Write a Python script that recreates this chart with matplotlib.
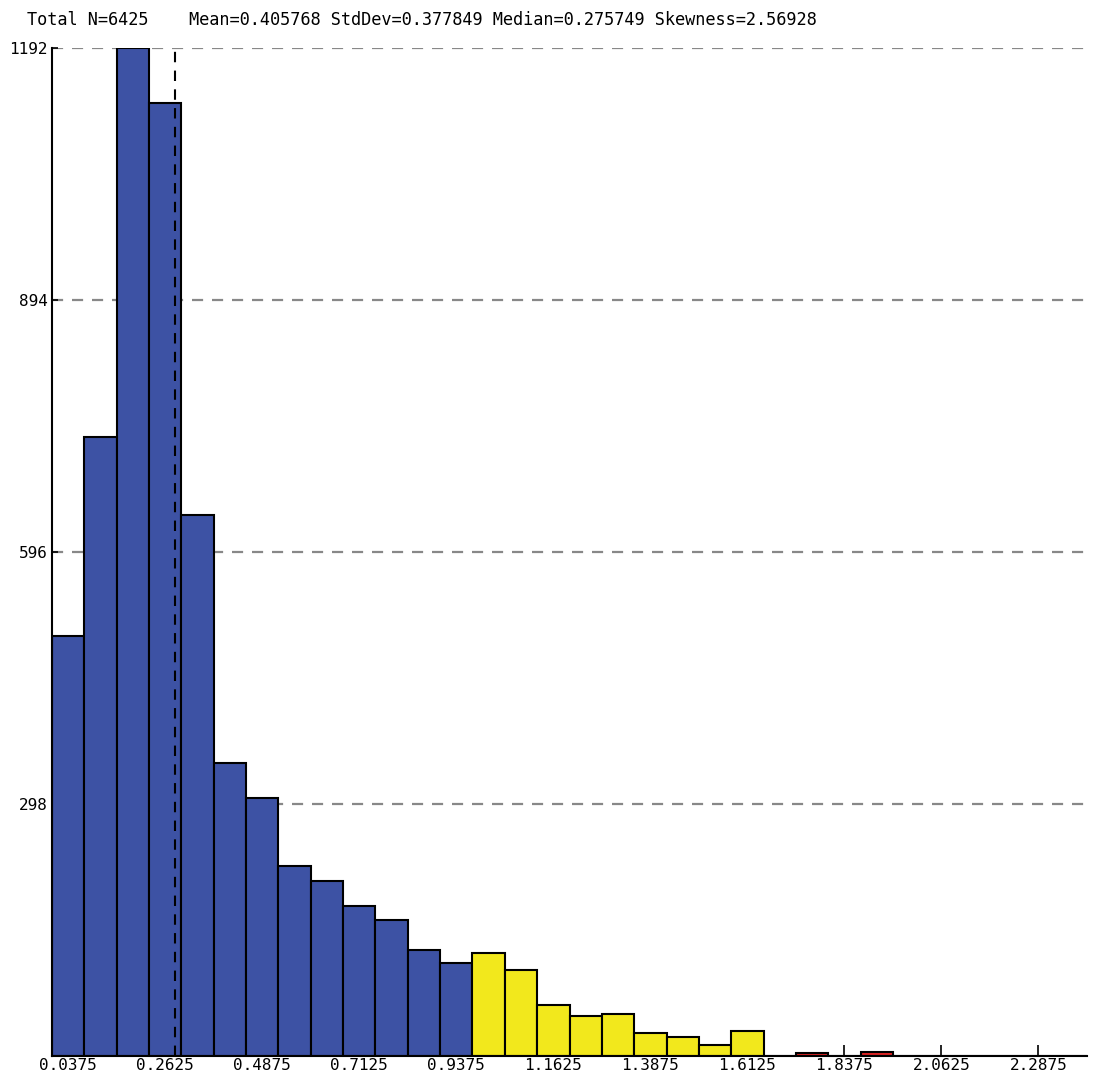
import numpy as np
import matplotlib
matplotlib.use("Agg")
import matplotlib.pyplot as plt

# histogram counts, bins of width 0.075 starting at 0
counts = [497, 732, 1192, 1127, 640, 346, 305, 225, 207, 177, 161, 125, 110,
          122, 102, 60, 47, 50, 27, 22, 13, 30,
          0, 3, 0, 5, 0, 0, 0, 0, 0, 0]
# colour class of each bin
groups = ['low'] * 13 + ['mid'] * 9 + ['high'] * 10
bin_start = 0.0
bin_width = 0.075

tick_labels = ['0.0375', '0.2625', '0.4875', '0.7125', '0.9375', '1.1625',
               '1.3875', '1.6125', '1.8375', '2.0625', '2.2875']
ytick_vals = [298, 596, 894, 1192]

median_line = 0.286
title = ("Total N=6425    Mean=0.405768 StdDev=0.377849 "
         "Median=0.275749 Skewness=2.56928")

group_colors = {'low': '#3d52a4', 'mid': '#f2e81c', 'high': '#e02424'}

plt.rcParams['font.family'] = 'DejaVu Sans Mono'

fig = plt.figure(figsize=(10.93, 10.76), dpi=100)
ax = fig.add_axes([52 / 1093, 20 / 1076, 1035 / 1093, 1008 / 1076])

lefts = bin_start + bin_width * np.arange(len(counts))
ax.bar(lefts, counts, width=bin_width, align='edge',
       color=[group_colors[g] for g in groups],
       edgecolor='black', linewidth=1.5, zorder=2)

# dashed grid
for v in ytick_vals:
    ax.axhline(v, color='#888888', linestyle=(0, (5, 4)), linewidth=1.6, zorder=1)

# median marker
ax.plot([median_line, median_line], [0, 1192], color='black',
        linestyle=(0, (5, 4)), linewidth=1.5, zorder=3)

ax.set_xlim(0, 2.4)
ax.set_ylim(0, 1192)

tick_pos = [float(t) for t in tick_labels]
ax.set_xticks(tick_pos)
ax.set_xticklabels(tick_labels, fontsize=11.5)
ax.set_yticks(ytick_vals)
ax.set_yticklabels([str(v) for v in ytick_vals], fontsize=11.5)

ax.tick_params(axis='x', direction='in', length=8, width=1.2, pad=1.5)
ax.tick_params(axis='y', direction='in', length=4, width=1.2, pad=3)

ax.spines['top'].set_visible(False)
ax.spines['right'].set_visible(False)
ax.spines['left'].set_linewidth(1.5)
ax.spines['bottom'].set_linewidth(1.5)

fig.text(27 / 1093, 1 - 20 / 1076, title, fontsize=12.2, va='center', ha='left')

fig.savefig('out.png', dpi=100)
